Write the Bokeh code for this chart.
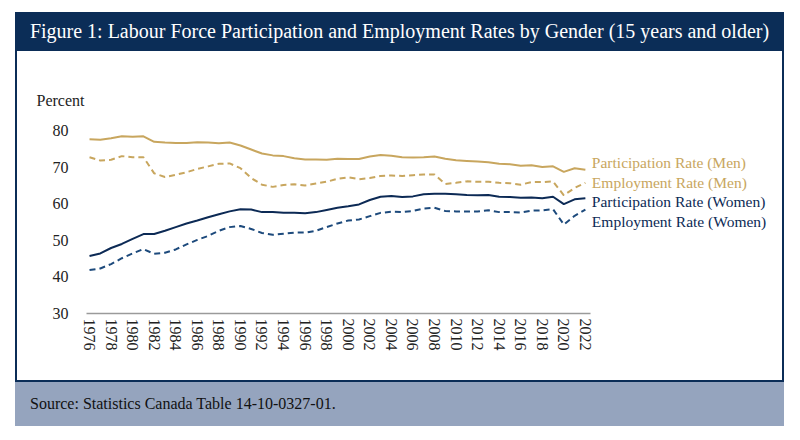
from bokeh.plotting import figure
from bokeh.layouts import column, row
from bokeh.models import Div, Range1d, FixedTicker, Title, ColumnDataSource
from bokeh.core.properties import value
from bokeh.embed import file_html
from bokeh.resources import INLINE

years = list(range(1976, 2023))

men_participation = [77.6, 77.5, 77.9, 78.4, 78.3, 78.4, 76.9, 76.7, 76.6, 76.6,
                     76.8, 76.7, 76.5, 76.7, 75.9, 74.8, 73.7, 73.2, 73.0, 72.4,
                     72.1, 72.1, 72.0, 72.3, 72.2, 72.2, 72.9, 73.3, 73.1, 72.7,
                     72.6, 72.7, 72.9, 72.3, 71.9, 71.7, 71.5, 71.3, 70.9, 70.8,
                     70.4, 70.5, 70.0, 70.2, 68.7, 69.7, 69.3]
men_employment = [72.7, 71.8, 72.0, 73.0, 72.7, 72.7, 68.3, 67.3, 67.9, 68.6,
                  69.5, 70.2, 70.9, 71.0, 69.7, 67.0, 65.2, 64.6, 65.1, 65.3,
                  65.0, 65.5, 66.0, 66.8, 67.2, 66.7, 67.0, 67.6, 67.7, 67.6,
                  67.8, 68.0, 68.0, 65.4, 65.7, 66.1, 66.0, 66.0, 65.7, 65.6,
                  65.2, 65.9, 65.9, 66.1, 62.3, 64.3, 65.7]
women_participation = [45.7, 46.4, 47.9, 49.0, 50.4, 51.7, 51.7, 52.6, 53.6, 54.6,
                       55.4, 56.3, 57.1, 57.9, 58.5, 58.4, 57.7, 57.7, 57.5, 57.5,
                       57.4, 57.7, 58.3, 58.9, 59.3, 59.8, 61.0, 61.9, 62.1, 61.8,
                       62.0, 62.6, 62.7, 62.7, 62.6, 62.4, 62.3, 62.4, 61.9, 61.8,
                       61.6, 61.7, 61.5, 61.9, 59.9, 61.2, 61.5]
women_employment = [41.9, 42.3, 43.5, 45.1, 46.4, 47.6, 46.3, 46.6, 47.5, 48.9,
                    50.1, 51.2, 52.6, 53.6, 53.9, 53.1, 52.0, 51.5, 51.8, 52.1,
                    52.1, 52.6, 53.6, 54.6, 55.4, 55.7, 56.6, 57.5, 57.8, 57.7,
                    58.0, 58.7, 58.9, 58.0, 57.9, 57.9, 57.9, 58.2, 57.7, 57.7,
                    57.6, 58.1, 58.2, 58.5, 54.3, 56.7, 58.4]

x_ticks = list(range(1976, 2023, 2))
y_ticks = [30, 40, 50, 60, 70, 80]

series_names = ["Participation Rate (Men)", "Employment Rate (Men)",
                "Participation Rate (Women)", "Employment Rate (Women)"]
label_y = [71.3, 65.7, 60.7, 55.2]

GOLD = "#c8a65e"
NAVY = "#0c2a55"
BLUE = "#1d4a7c"
BAR = "#0b2d57"
SRC = "#95a4be"
PAD = "#ffffff"
FONT = "Liberation Serif"
Z = (0, 0, 0, 0)

p = figure(width=765, height=329, output_backend="svg", toolbar_location=None,
           x_range=Range1d(1975.72, 2040.1), y_range=Range1d(30, 80),
           min_border_left=69, min_border_right=2, min_border_top=79,
           min_border_bottom=67, background_fill_color="white",
           border_fill_color="white", outline_line_color=None, margin=Z)
p.grid.visible = False

p.title = Title(text="Percent", align="left", offset=-50, standoff=43,
                text_font=FONT, text_font_size="16px", text_font_style="normal",
                text_color="#222222")

p.line(years, men_participation, line_color=GOLD, line_width=2)
p.line(years, men_employment, line_color=GOLD, line_width=2, line_dash="6 4")
p.line(years, women_participation, line_color=NAVY, line_width=2)
p.line(years, women_employment, line_color=BLUE, line_width=2, line_dash="6 4")

src = ColumnDataSource(dict(x=[2022.6] * 4, y=label_y, text=series_names,
                            color=[GOLD, GOLD, NAVY, NAVY]))
p.text(x="x", y="y", text="text", source=src, text_color="color",
       text_font=value(FONT), text_font_size="15.5px", text_baseline="middle",
       text_align="left")

xa = p.xaxis[0]
xa.ticker = FixedTicker(ticks=x_ticks)
xa.bounds = (1975.7, 2022.5)
xa.axis_line_color = "#9a9a9a"
xa.axis_line_width = 1.5
xa.major_tick_line_color = None
xa.minor_tick_line_color = None
xa.major_tick_out = 0
xa.major_label_orientation = "vertical"
xa.major_label_standoff = 5
xa.major_label_text_font = FONT
xa.major_label_text_font_size = "16px"
xa.major_label_text_color = "#222222"

ya = p.yaxis[0]
ya.ticker = FixedTicker(ticks=y_ticks)
ya.axis_line_color = None
ya.major_tick_line_color = None
ya.minor_tick_line_color = None
ya.major_tick_out = 0
ya.major_label_standoff = 18
ya.major_label_text_font = FONT
ya.major_label_text_font_size = "16px"
ya.major_label_text_color = "#222222"

LP = 15   # left white pad
TP = 12   # top white pad
LEFT_PAD = "linear-gradient(to right, %s %dpx, transparent %dpx)" % (PAD, LP, LP)

title_div = Div(text=("<div style=\"color:#ffffff;font-family:'Liberation Serif';"
                      "font-size:20px;line-height:39px;text-align:center;"
                      "white-space:nowrap;width:769px;margin-left:%dpx;padding-top:%dpx\">"
                      "Figure 1: Labour Force Participation and Employment Rates by Gender "
                      "(15 years and older)</div>") % (LP, TP),
                width=769 + LP, height=39 + TP, margin=Z,
                styles={"background": LEFT_PAD + ", linear-gradient(to bottom, %s %dpx, %s %dpx)"
                        % (PAD, TP, BAR, TP)})
left_b = Div(text="", width=2 + LP, height=329, margin=Z,
             styles={"background": "linear-gradient(to right, %s %dpx, %s %dpx)" % (PAD, LP, BAR, LP)})
right_b = Div(text="", width=2, height=329, margin=Z, styles={"background": BAR})
bottom_b = Div(text="", width=769 + LP, height=2, margin=Z,
               styles={"background": "linear-gradient(to right, %s %dpx, %s %dpx)" % (PAD, LP, BAR, LP)})
src_div = Div(text=("<div style=\"color:#111111;font-family:'Liberation Serif';"
                    "font-size:16px;line-height:44px;padding-left:%dpx;"
                    "white-space:nowrap\">Source: Statistics Canada Table 14-10-0327-01.</div>")
              % (LP + 15),
              width=769 + LP, height=44, margin=Z,
              styles={"background": "linear-gradient(to right, %s %dpx, %s %dpx)" % (PAD, LP, SRC, LP)})

layout = column(title_div, row(left_b, p, right_b, spacing=0, margin=Z),
                bottom_b, src_div, spacing=0, margin=Z)

open("out.html", "w").write(file_html(layout, INLINE))
